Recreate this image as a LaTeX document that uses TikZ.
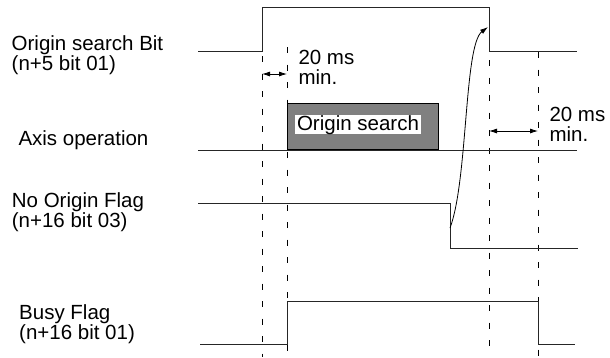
\documentclass[tikz,border=0pt]{standalone}
\usepackage{fontspec}
\setmainfont{Liberation Sans}
\usetikzlibrary{arrows.meta, positioning}

\newcommand{\lblfont}{\fontsize{20.5}{20}\selectfont}

\begin{document}
\begin{tikzpicture}[
    x=1pt, y=-1pt,
    >={Latex[length=8pt,width=5pt]},
    sig/.style={line width=1pt, black!85},
    guide/.style={line width=0.8pt, dash pattern=on 6pt off 11.5pt},
    dim/.style={<->, line width=0.8pt},
    lbl/.style={anchor=north west, inner sep=0pt, align=left, font=\lblfont},
    opbox/.style={
        draw,
        rectangle,
        line width=1pt,
        fill=black!50,
        minimum width=151pt,
        minimum height=46pt,
        inner sep=0pt
    },
    optag/.style={
        fill=white,
        inner xsep=2.5pt,
        inner ysep=0pt,
        font=\lblfont
    }
]
\useasboundingbox (0,0) rectangle (610,357);

% time marks
\coordinate (t0) at (262,0);
\coordinate (t1) at (287,0);
\coordinate (t2) at (489,0);
\coordinate (t3) at (538,0);

% signal names
\node[lbl] (bitlbl) at (11.5,35.5) {Origin search Bit\\(n+5 bit 01)};
\node[lbl, anchor=base west] (axislbl) at (18.3,145) {Axis operation};
\node[lbl] (nolbl) at (11.7,192.5) {No Origin Flag\\(n+16 bit 03)};
\node[lbl] (busylbl) at (19,304) {Busy Flag\\(n+16 bit 01)};

% guides
\draw[guide] (t0 |- 0,56) -- (t0 |- 0,357);
\draw[guide] (t1 |- 0,47) -- (t1 |- 0,357);
\draw[guide] (t2 |- 0,60) -- (t2 |- 0,357);
\draw[guide] (t3 |- 0,52) -- (t3 |- 0,357);

% waveforms
\draw[sig] (198,51) -- (262,51) -- (262,7) -- (489,7) -- (489,51) -- (577,51);
\node[opbox, anchor=south west] (search) at (287,150) {};
\node[optag, anchor=base] (searchtag) at (358,130) {Origin search};
\draw[sig] (198,150) -- (577,150);
\draw[sig] (198,203) -- (450,203) -- (450,248) -- (578,248);
\draw[sig] (200,344) -- (287,344) -- (287,301) -- (538,301) -- (538,344) -- (575,344);

% timing
\coordinate (fall) at (450,228);
\coordinate (reset) at (488,27);
\draw[->, line width=0.8pt] (fall) .. controls (468,180) and (464,45) .. (reset);

\draw[dim] (t0 |- 0,74) -- (t1 |- 0,74);
\node[lbl] (mina) at (298.3,49.8) {20 ms\\min.};
\draw[dim] (t2 |- 0,131) -- (t3 |- 0,131);
\node[lbl] (minb) at (549.3,106.5) {20 ms\\min.};

\end{tikzpicture}
\end{document}
